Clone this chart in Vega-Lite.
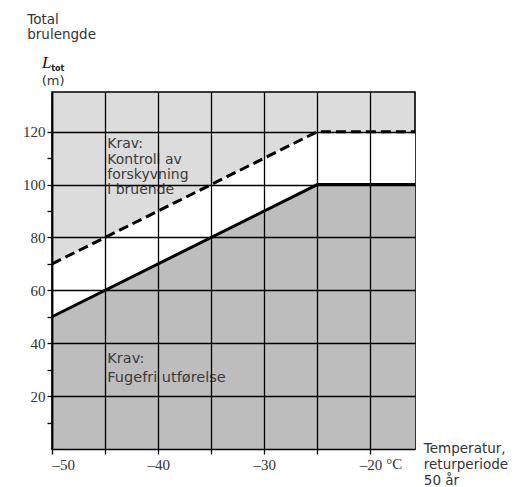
{
  "$schema": "https://vega.github.io/schema/vega-lite/v6.json",
  "width": 363,
  "height": 357,
  "autosize": {"type": "none"},
  "padding": {"left": 52, "top": 92, "right": 100, "bottom": 38},
  "background": "white",
  "config": {
    "view": {"stroke": "black", "strokeWidth": 1.6, "fill": "#dcdcdc"},
    "font": "DejaVu Sans",
    "text": {"font": "DejaVu Sans", "fontSize": 14, "color": "#333", "fontWeight": "normal"}
  },
  "data": {
    "values": [
      {"t": -50, "kontroll": 70, "fugefri": 50},
      {"t": -25, "kontroll": 120, "fugefri": 100},
      {"t": -15.8, "kontroll": 120, "fugefri": 100}
    ]
  },
  "layer": [
    {
      "mark": {"type": "area", "color": "white", "opacity": 1},
      "encoding": {
        "x": {
          "field": "t", "type": "quantitative",
          "scale": {"domain": [-50, -15.8], "nice": false, "zero": false},
          "axis": {
            "values": [-50, -45, -40, -35, -30, -25, -20],
            "tickCount": 20,
            "labelExpr": "datum.value % 10 === 0 ? '–' + abs(datum.value) : ''",
            "labelOverlap": false,
            "grid": true, "gridColor": "black", "gridWidth": 1.3, "gridOpacity": 1,
            "domain": true, "domainColor": "black", "domainWidth": 1.6,
            "ticks": true, "tickColor": "black", "tickWidth": 1.3, "tickSize": 5,
            "labelFontSize": 15, "labelColor": "#333", "labelPadding": 3,
            "labelFont": "Liberation Sans Narrow",
            "zindex": 1,
            "title": ["Temperatur,", "returperiode", "50 år"],
            "titleAngle": 0, "titleAlign": "left", "titleBaseline": "alphabetic",
            "titleX": 371.3, "titleY": 3.7,
            "titleFontSize": 13.5, "titleFontWeight": "normal", "titleColor": "#333",
            "titleLineHeight": 15.8,
            "titleFont": "DejaVu Sans"
          }
        },
        "y": {
          "field": "kontroll", "type": "quantitative",
          "scale": {"domain": [0, 135], "nice": false, "zero": false},
          "axis": {
            "values": [10, 20, 30, 40, 50, 60, 70, 80, 90, 100, 110, 120],
            "tickCount": 20,
            "labelExpr": "datum.value % 20 === 0 ? datum.label : ''",
            "labelOverlap": false,
            "grid": true, "gridWidth": 1.3,
            "gridColor": {"condition": {"test": "datum.value % 20 === 0", "value": "black"}, "value": "transparent"},
            "domain": true, "domainColor": "black", "domainWidth": 1.6,
            "ticks": true, "tickColor": "black", "tickWidth": 1.3, "tickSize": 5,
            "labelFontSize": 15, "labelColor": "#333", "labelPadding": 2,
            "labelFont": "Liberation Sans Narrow",
            "zindex": 1,
            "title": ["Total", "brulengde"],
            "titleAngle": 0, "titleAlign": "left", "titleBaseline": "alphabetic",
            "titleX": -25.3, "titleY": -68.5,
            "titleFontSize": 13.5, "titleFontWeight": "normal", "titleColor": "#333",
            "titleLineHeight": 15,
            "titleFont": "DejaVu Sans"
          }
        },
        "y2": {"field": "fugefri"}
      }
    },
    {
      "mark": {"type": "area", "color": "#bdbdbd", "opacity": 1},
      "encoding": {
        "x": {"field": "t", "type": "quantitative", "scale": {"domain": [-50, -15.8], "nice": false, "zero": false}},
        "y": {"field": "fugefri", "type": "quantitative", "scale": {"domain": [0, 135], "nice": false, "zero": false}},
        "y2": {"datum": 0}
      }
    },
    {
      "mark": {"type": "line", "color": "black", "strokeWidth": 3, "strokeDash": [10, 5], "zindex": 2},
      "encoding": {
        "x": {"field": "t", "type": "quantitative", "scale": {"domain": [-50, -15.8], "nice": false, "zero": false}},
        "y": {"field": "kontroll", "type": "quantitative", "scale": {"domain": [0, 135], "nice": false, "zero": false}}
      }
    },
    {
      "mark": {"type": "line", "color": "black", "strokeWidth": 3, "zindex": 2},
      "encoding": {
        "x": {"field": "t", "type": "quantitative", "scale": {"domain": [-50, -15.8], "nice": false, "zero": false}},
        "y": {"field": "fugefri", "type": "quantitative", "scale": {"domain": [0, 135], "nice": false, "zero": false}}
      }
    },
    {
      "data": {"values": [{}]},
      "mark": {"type": "text", "align": "left", "baseline": "alphabetic", "lineHeight": 15.3, "fontSize": 14, "fontWeight": "normal", "color": "#3a3a3a", "zindex": 2},
      "encoding": {
        "x": {"datum": -44.79, "type": "quantitative"},
        "y": {"datum": 113.7, "type": "quantitative"},
        "text": {"value": ["Krav:", "Kontroll av", "forskyvning", "i bruende"]}
      }
    },
    {
      "data": {"values": [{}]},
      "mark": {"type": "text", "align": "left", "baseline": "alphabetic", "lineHeight": 18.3, "fontSize": 14.5, "fontWeight": "normal", "color": "#3a3a3a", "zindex": 2},
      "encoding": {
        "x": {"datum": -44.79, "type": "quantitative"},
        "y": {"datum": 32.4, "type": "quantitative"},
        "text": {"value": ["Krav:", "Fugefri utførelse"]}
      }
    },
    {
      "data": {"values": [{}]},
      "mark": {"type": "text", "align": "center", "baseline": "alphabetic", "font": "Liberation Serif", "fontStyle": "italic", "fontSize": 17, "color": "#111"},
      "encoding": {
        "x": {"datum": -50.5, "type": "quantitative"},
        "y": {"datum": 143.96, "type": "quantitative"},
        "text": {"value": "L"}
      }
    },
    {
      "data": {"values": [{}]},
      "mark": {"type": "text", "align": "center", "baseline": "alphabetic", "fontSize": 8, "fontWeight": "bold", "color": "#222"},
      "encoding": {
        "x": {"datum": -49.45, "type": "quantitative"},
        "y": {"datum": 143.05, "type": "quantitative"},
        "text": {"value": "tot"}
      }
    },
    {
      "data": {"values": [{}]},
      "mark": {"type": "text", "align": "center", "baseline": "alphabetic", "fontSize": 13, "fontWeight": "normal"},
      "encoding": {
        "x": {"datum": -49.9, "type": "quantitative"},
        "y": {"datum": 137.8, "type": "quantitative"},
        "text": {"value": "(m)"}
      }
    },
    {
      "data": {"values": [{}]},
      "mark": {"type": "text", "align": "left", "baseline": "alphabetic", "font": "Liberation Sans Narrow", "fontSize": 15, "fontWeight": "normal"},
      "encoding": {
        "x": {"datum": -18.5, "type": "quantitative"},
        "y": {"datum": -7.56, "type": "quantitative"},
        "text": {"value": "°C"}
      }
    }
  ]
}
